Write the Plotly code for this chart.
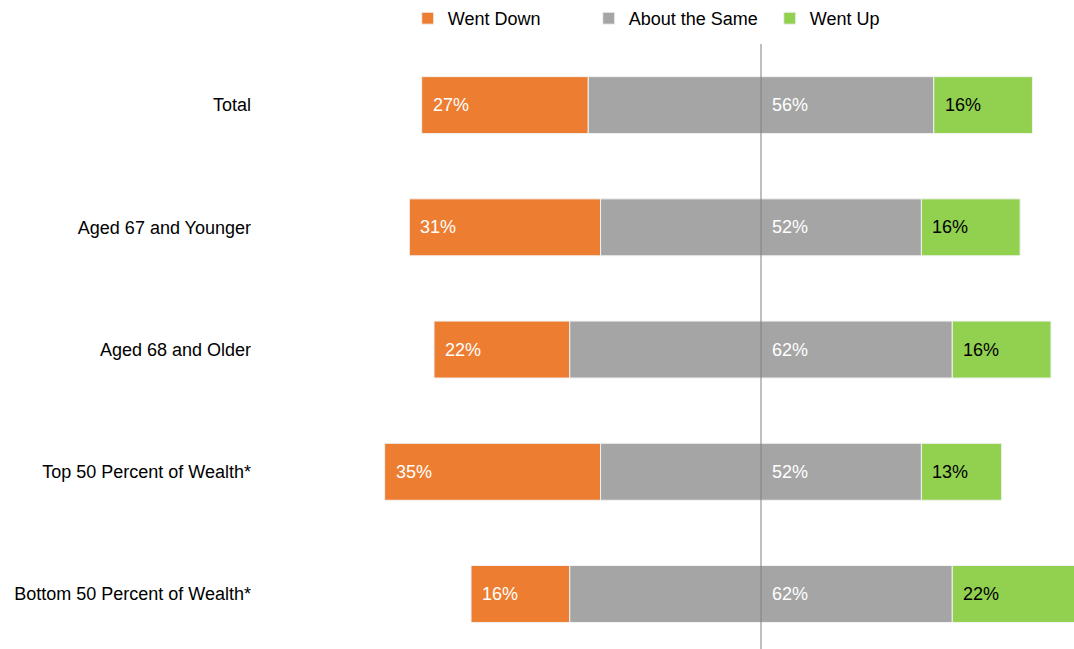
import plotly.graph_objects as go

categories = ["Total", "Aged 67 and Younger", "Aged 68 and Older",
              "Top 50 Percent of Wealth*", "Bottom 50 Percent of Wealth*"]
went_down = [27, 31, 22, 35, 16]
about_same = [56, 52, 62, 52, 62]
went_up = [16, 16, 16, 13, 22]

C_DOWN = "#ED7D31"
C_SAME = "#A5A5A5"
C_UP = "#92D050"
FONT = "Liberation Sans, Arial, sans-serif"
FS = 18

base_same = [-s / 2 for s in about_same]
base_down = [-s / 2 - d for s, d in zip(about_same, went_down)]
base_up = [s / 2 for s in about_same]

fig = go.Figure()
fig.add_trace(go.Bar(name="Went Down", y=categories, x=went_down, base=base_down,
                     orientation="h", marker=dict(color=C_DOWN, line=dict(color="#F2F2F2", width=1))))
fig.add_trace(go.Bar(name="About the Same", y=categories, x=about_same, base=base_same,
                     orientation="h", marker=dict(color=C_SAME, line=dict(color="#F2F2F2", width=1))))
fig.add_trace(go.Bar(name="Went Up", y=categories, x=went_up, base=base_up,
                     orientation="h", marker=dict(color=C_UP, line=dict(color="#F2F2F2", width=1))))

annotations = []
for i, cat in enumerate(categories):
    annotations.append(dict(x=base_down[i], y=cat, text=f"{went_down[i]}%", showarrow=False,
                            xanchor="left", xshift=9, font=dict(color="white", size=FS, family=FONT)))
    annotations.append(dict(x=0, y=cat, text=f"{about_same[i]}%", showarrow=False,
                            xanchor="left", xshift=9, font=dict(color="white", size=FS, family=FONT)))
    annotations.append(dict(x=base_up[i], y=cat, text=f"{went_up[i]}%", showarrow=False,
                            xanchor="left", xshift=9, font=dict(color="black", size=FS, family=FONT)))

fig.update_layout(
    width=1074, height=649,
    margin=dict(l=256, r=0, t=44, b=0, autoexpand=False),
    paper_bgcolor="white", plot_bgcolor="white",
    barmode="overlay", bargap=0.534,
    font=dict(family=FONT, size=FS, color="black"),
    showlegend=True,
    legend=dict(orientation="h", x=0.1855, xanchor="left", y=1.0, yanchor="top",
                yref="container", entrywidth=136, font=dict(size=FS, family=FONT),
                traceorder="normal", bgcolor="rgba(0,0,0,0)", itemwidth=30),
    xaxis=dict(range=[-81.85, 50.73], visible=False, fixedrange=True),
    yaxis=dict(categoryorder="array", categoryarray=categories, range=[4.45, -0.5],
               showgrid=False, zeroline=False, showline=False, ticks="", automargin=False,
               ticklabelstandoff=4, fixedrange=True,
               tickfont=dict(size=FS, family=FONT, color="black")),
    shapes=[dict(type="line", xref="x", yref="paper", x0=0, x1=0, y0=0, y1=1,
                 line=dict(color="#808080", width=1), layer="above")],
    annotations=annotations,
)

fig.write_html("out.html", config={"displayModeBar": False},
               post_script="document.body.style.margin='0';document.body.style.overflow='hidden';")
